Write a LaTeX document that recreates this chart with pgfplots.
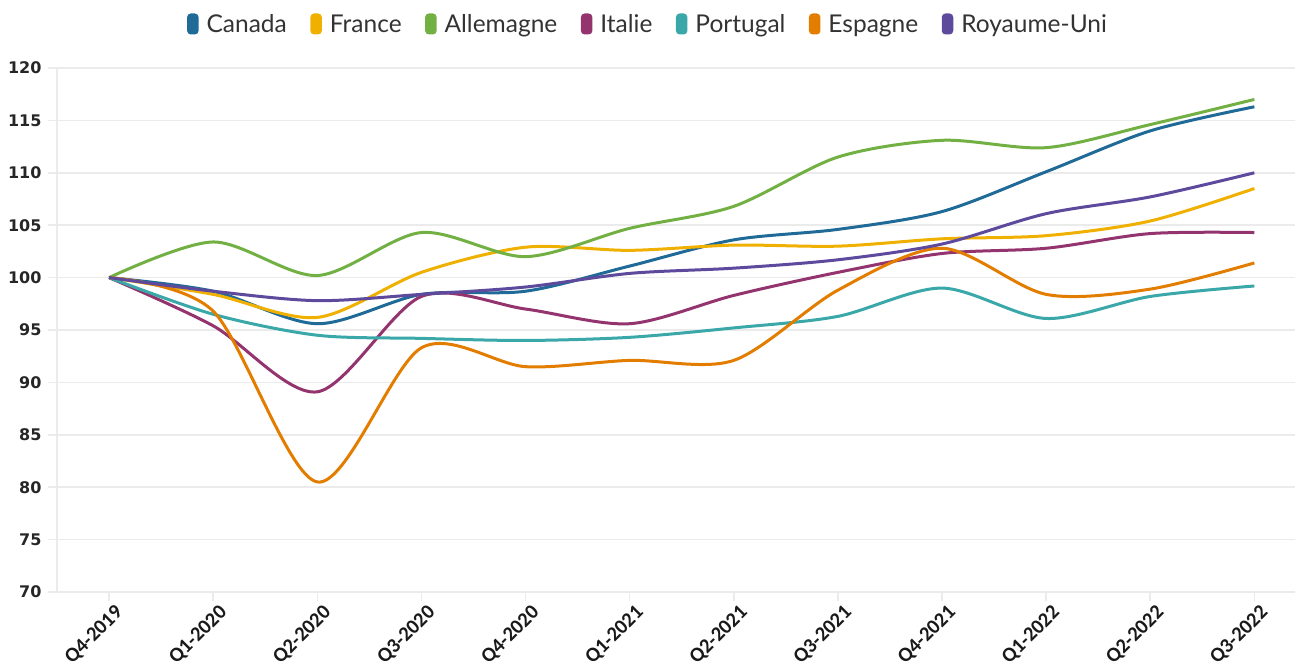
\documentclass[border=0pt]{standalone}
\usepackage{fontspec}
\setmainfont{Lato}
\newfontfamily\yfont{DejaVu Sans}
\newfontfamily\xfont{Carlito}
\usepackage{pgfplots}
\pgfplotsset{compat=1.18}
\usepackage{pgfplotstable}
\definecolor{cCan}{HTML}{1F6A96}
\definecolor{cFra}{HTML}{F0B000}
\definecolor{cAll}{HTML}{72B043}
\definecolor{cIta}{HTML}{94346E}
\definecolor{cPor}{HTML}{3AA7A8}
\definecolor{cEsp}{HTML}{E37D00}
\definecolor{cRU}{HTML}{5D4A9C}
\definecolor{gridc}{HTML}{EBEBEB}
\pgfplotstableread{
x Canada France Allemagne Italie Portugal Espagne RU
0 100 100 100 100 100 100 100
1 98.7 98.4 103.4 95.4 96.5 96.8 98.7
2 95.6 96.2 100.2 89.1 94.5 80.5 97.8
3 98.4 100.5 104.3 98.2 94.2 93.3 98.4
4 98.7 102.9 102.0 97.0 94.0 91.5 99.1
5 101.1 102.6 104.7 95.6 94.3 92.1 100.4
6 103.6 103.1 106.8 98.3 95.2 92.1 100.9
7 104.6 103.0 111.5 100.5 96.3 98.8 101.7
8 106.3 103.7 113.1 102.3 99.0 102.8 103.2
9 110.1 104.0 112.4 102.8 96.1 98.4 106.1
10 114.0 105.4 114.6 104.2 98.2 98.9 107.7
11 116.3 108.5 117.0 104.3 99.2 101.4 110.0
}\data
\begin{document}
\begin{tikzpicture}
\useasboundingbox (-57pt,-76pt) rectangle (1238pt,592pt);
\begin{axis}[
  at={(0pt,0pt)}, anchor=south west,
  scale only axis, width=1239pt, height=524pt,
  xmin=-0.5, xmax=11.4, ymin=70, ymax=120,
  xtick={0,...,11},
  xticklabels={Q4-2019,Q1-2020,Q2-2020,Q3-2020,Q4-2020,Q1-2021,Q2-2021,Q3-2021,Q4-2021,Q1-2022,Q2-2022,Q3-2022},
  ytick={70,75,...,120},
  ymajorgrids, grid style={gridc, line width=1.5pt},
  axis x line*=bottom, axis y line*=left,
  axis line style={gridc, line width=1.5pt},
  tick style={gridc, line width=1.5pt},
  tick align=outside, major tick length=9pt,
  /pgf/number format/assume math mode=true,
  yticklabel style={font=\yfont\bfseries\fontsize{16}{16}\selectfont, text=black!85, xshift=-3pt},
  xticklabel style={font=\xfont\bfseries\fontsize{20.5}{20.5}\selectfont, text=black!90, rotate=45, anchor=north east, xshift=5pt, yshift=-2pt},
  legend columns=-1,
  legend style={at={(0.477,1.084)}, anchor=center, draw=none, fill=none,
    font=\fontsize{24.5}{28}\selectfont, text=black!80,
    /tikz/every odd column/.append style={column sep=6pt},
    /tikz/every even column/.append style={column sep=21.5pt}},
  legend image code/.code={\fill[#1, rounded corners=2.5pt] (0pt,-9pt) rectangle (8.5pt,9pt);},
  every axis plot/.append style={line width=3pt, smooth, tension=0.5},
]
\addplot[color=cCan] table[x=x,y=Canada]{\data};
\addlegendentry{Canada}
\addplot[color=cFra] table[x=x,y=France]{\data};
\addlegendentry{France}
\addplot[color=cAll] table[x=x,y=Allemagne]{\data};
\addlegendentry{Allemagne}
\addplot[color=cIta] table[x=x,y=Italie]{\data};
\addlegendentry{Italie}
\addplot[color=cPor] table[x=x,y=Portugal]{\data};
\addlegendentry{Portugal}
\addplot[color=cEsp] table[x=x,y=Espagne]{\data};
\addlegendentry{Espagne}
\addplot[color=cRU] table[x=x,y=RU]{\data};
\addlegendentry{Royaume-Uni}
\end{axis}
\end{tikzpicture}
\end{document}
